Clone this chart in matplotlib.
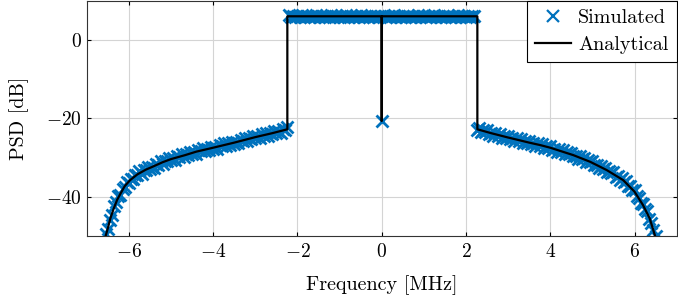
import matplotlib
matplotlib.use('Agg')
import matplotlib.pyplot as plt

plt.rcParams['font.family'] = 'serif'
plt.rcParams['font.serif'] = ['cmr10']
plt.rcParams['mathtext.fontset'] = 'cm'
plt.rcParams['axes.formatter.use_mathtext'] = True
plt.rcParams['font.size'] = 14

# simulated PSD, lower band
sim_f_left = [-6.55, -6.50, -6.45, -6.40, -6.35, -6.30, -6.25, -6.20, -6.15, -6.10,
              -6.05, -6.00, -5.95, -5.90, -5.85, -5.80, -5.75, -5.70, -5.65, -5.60,
              -5.55, -5.50, -5.45, -5.40, -5.35, -5.30, -5.25, -5.20, -5.15, -5.10,
              -5.05, -5.00, -4.95, -4.90, -4.85, -4.80, -4.75, -4.70, -4.65, -4.60,
              -4.55, -4.50, -4.45, -4.40, -4.35, -4.30, -4.25, -4.20, -4.15, -4.10,
              -4.05, -4.00, -3.95, -3.90, -3.85, -3.80, -3.75, -3.70, -3.65, -3.60,
              -3.55, -3.50, -3.45, -3.40, -3.35, -3.30, -3.25, -3.20, -3.15, -3.10,
              -3.05, -3.00, -2.95, -2.90, -2.85, -2.80, -2.75, -2.70, -2.65, -2.60,
              -2.55, -2.50, -2.45, -2.40, -2.35, -2.30, -2.25]
sim_psd_left = [-49.5, -48.3, -45.8, -44.7, -42.4, -41.4, -39.7, -39.6, -38.0, -37.5,
                -36.3, -36.4, -35.5, -35.6, -34.4, -34.4, -33.5, -34.1, -33.2, -33.3,
                -32.5, -32.9, -32.3, -32.7, -31.6, -31.8, -30.9, -31.6, -30.8, -31.0,
                -30.2, -30.7, -30.2, -30.6, -29.6, -29.9, -29.1, -29.9, -29.2, -29.4,
                -28.6, -29.2, -28.6, -29.0, -28.1, -28.4, -27.6, -28.4, -27.7, -28.0,
                -27.2, -27.8, -27.2, -27.7, -26.7, -27.0, -26.3, -27.1, -26.4, -26.7,
                -26.0, -26.5, -26.0, -26.4, -25.5, -25.7, -25.0, -25.7, -25.0, -25.3,
                -24.5, -25.1, -24.6, -25.1, -24.1, -24.4, -23.7, -24.5, -23.7, -24.0,
                -23.3, -23.8, -23.3, -23.7, -22.8, -23.1, -22.3]

# simulated PSD, pass band
sim_f_mid = [-2.20, -2.15, -2.10, -2.05, -2.00, -1.95, -1.90, -1.85, -1.80, -1.75,
             -1.70, -1.65, -1.60, -1.55, -1.50, -1.45, -1.40, -1.35, -1.30, -1.25,
             -1.20, -1.15, -1.10, -1.05, -1.00, -0.95, -0.90, -0.85, -0.80, -0.75,
             -0.70, -0.65, -0.60, -0.55, -0.50, -0.45, -0.40, -0.35, -0.30, -0.25,
             -0.20, -0.15, -0.10, -0.05, 0.00,
             0.05, 0.10, 0.15, 0.20, 0.25, 0.30, 0.35, 0.40, 0.45, 0.50,
             0.55, 0.60, 0.65, 0.70, 0.75, 0.80, 0.85, 0.90, 0.95, 1.00,
             1.05, 1.10, 1.15, 1.20, 1.25, 1.30, 1.35, 1.40, 1.45, 1.50,
             1.55, 1.60, 1.65, 1.70, 1.75, 1.80, 1.85, 1.90, 1.95, 2.00,
             2.05, 2.10, 2.15, 2.20]
sim_psd_mid = [6.3, 5.8, 6.1, 5.7, 6.2, 5.9, 6.3, 5.8, 6.0, 6.2,
               5.7, 6.1, 5.9, 6.3, 5.8, 6.0, 6.2, 5.9, 6.1, 5.7,
               6.3, 5.9, 6.0, 6.2, 5.8, 6.1, 5.9, 6.3, 5.7, 6.0,
               6.2, 5.8, 6.1, 5.9, 6.3, 5.8, 6.0, 6.2, 5.7, 6.1,
               5.9, 6.2, 5.8, 6.0, -20.7,
               6.1, 5.8, 6.2, 5.9, 6.0, 6.3, 5.7, 6.1, 5.9, 6.2,
               5.8, 6.0, 6.2, 5.7, 6.1, 5.9, 6.3, 5.8, 6.0, 6.1,
               5.7, 6.2, 5.9, 6.0, 6.3, 5.8, 6.1, 5.9, 6.2, 5.7,
               6.0, 6.2, 5.8, 6.1, 5.9, 6.3, 5.8, 6.0, 6.2, 5.9,
               6.1, 5.7, 6.0, 6.2]

# simulated PSD, upper band
sim_f_right = [2.25, 2.30, 2.35, 2.40, 2.45, 2.50, 2.55, 2.60, 2.65, 2.70,
               2.75, 2.80, 2.85, 2.90, 2.95, 3.00, 3.05, 3.10, 3.15, 3.20,
               3.25, 3.30, 3.35, 3.40, 3.45, 3.50, 3.55, 3.60, 3.65, 3.70,
               3.75, 3.80, 3.85, 3.90, 3.95, 4.00, 4.05, 4.10, 4.15, 4.20,
               4.25, 4.30, 4.35, 4.40, 4.45, 4.50, 4.55, 4.60, 4.65, 4.70,
               4.75, 4.80, 4.85, 4.90, 4.95, 5.00, 5.05, 5.10, 5.15, 5.20,
               5.25, 5.30, 5.35, 5.40, 5.45, 5.50, 5.55, 5.60, 5.65, 5.70,
               5.75, 5.80, 5.85, 5.90, 5.95, 6.00, 6.05, 6.10, 6.15, 6.20,
               6.25, 6.30, 6.35, 6.40, 6.45, 6.50, 6.55]
sim_psd_right = [-23.0, -22.5, -23.5, -23.0, -23.5, -23.0, -24.0, -23.7, -24.5, -23.8,
                 -24.4, -24.0, -24.9, -24.4, -24.9, -24.4, -25.3, -25.1, -25.8, -25.1,
                 -25.8, -25.3, -26.2, -25.8, -26.2, -25.7, -26.6, -26.4, -27.1, -26.4,
                 -27.0, -26.6, -27.5, -27.0, -27.5, -27.0, -28.0, -27.8, -28.5, -27.9,
                 -28.6, -28.2, -29.1, -28.7, -29.2, -28.8, -29.7, -29.5, -30.3, -29.7,
                 -30.4, -30.1, -31.1, -30.7, -31.2, -30.9, -31.9, -31.8, -32.6, -32.1,
                 -32.9, -32.6, -33.7, -33.4, -34.0, -33.7, -34.9, -34.8, -35.7, -35.3,
                 -36.2, -36.0, -37.3, -37.3, -38.2, -38.2, -39.8, -40.2, -41.6, -41.8,
                 -43.1, -43.7, -45.7, -46.6, -48.6, -49.9, -52.3]

# analytical PSD
ana_f = [-6.6, -6.56, -6.5, -6.44, -6.36, -6.28, -6.2, -6.1, -5.97, -5.8,
         -5.6, -5.45, -5.2, -5.0, -4.67, -4.4, -4.04, -3.5, -3.0, -2.6, -2.24,
         -2.24, -0.005, 0.0, 0.005, 2.27,
         2.27, 2.6, 3.0, 3.5, 3.77, 4.0, 4.55, 4.95, 5.34, 5.73, 6.0, 6.2, 6.36, 6.48, 6.53]
ana_psd = [-51.5, -50.3, -48.0, -45.5, -43.0, -40.8, -39.2, -37.3, -35.75, -34.3,
           -33.1, -32.4, -31.2, -30.4, -29.4, -28.5, -27.6, -26.2, -24.8, -23.8, -22.8,
           6.0, 6.0, -20.7, 6.0, 6.0,
           -22.8, -23.8, -24.9, -26.2, -26.85, -27.5, -29.4, -31.1, -33.2, -35.75, -38.7, -42.1, -45.5, -49.7, -51.5]

sim_f = sim_f_left + sim_f_mid + sim_f_right
sim_psd = sim_psd_left + sim_psd_mid + sim_psd_right

fig = plt.figure(figsize=(6.78, 3.01), dpi=100)
ax = fig.add_axes([0.128, 0.216, 0.870, 0.782])

ax.plot(sim_f, sim_psd, linestyle='none', marker='x', markersize=9,
        markeredgewidth=2.0, color='#0072BD', label='Simulated', zorder=2)
ax.plot(ana_f, ana_psd, color='black', linewidth=1.6, label='Analytical', zorder=3)

ax.set_xlim(-7, 7)
ax.set_ylim(-50, 10)
ax.set_xticks([-6, -4, -2, 0, 2, 4, 6])
ax.set_yticks([-40, -20, 0])
ax.grid(True, color='#d4d4d4', linewidth=0.8)
ax.set_axisbelow(True)
ax.tick_params(direction='in', top=True, right=True, length=3, labelsize=14)
ax.tick_params(axis='x', pad=5)
for s in ax.spines.values():
    s.set_linewidth(0.8)
    s.set_color('#333333')

ax.set_xlabel('Frequency [MHz]', fontsize=14.5, labelpad=10)
ax.set_ylabel('PSD [dB]', fontsize=14.5, labelpad=12)

leg = ax.legend(loc='upper right', borderaxespad=0, fancybox=False, framealpha=1,
                edgecolor='black', handlelength=1.8, handletextpad=0.35,
                borderpad=0.4, labelspacing=0.45, fontsize=14.5)
leg.get_frame().set_linewidth(0.8)
leg.legend_handles[0].set_markeredgewidth(1.6)
leg.legend_handles[0].set_markersize(8.5)

plt.savefig('out.png', dpi=100)
